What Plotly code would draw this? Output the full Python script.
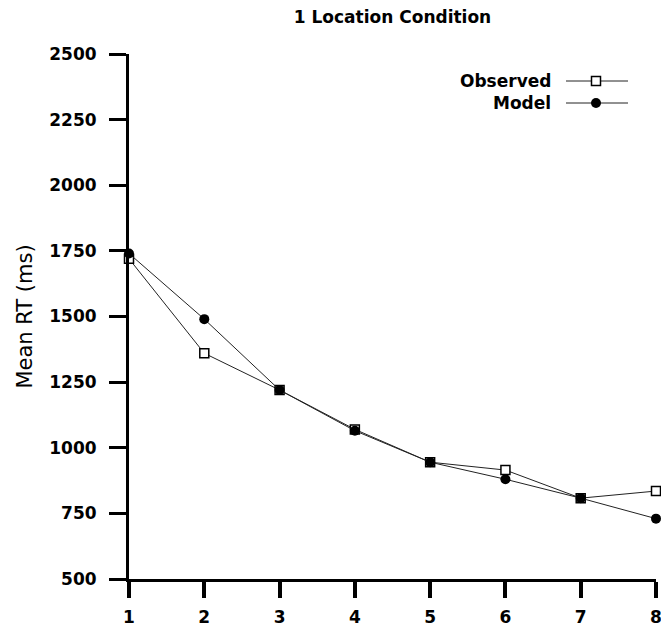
import plotly.graph_objects as go

set_size = [1, 2, 3, 4, 5, 6, 7, 8]
observed = [1720, 1360, 1220, 1070, 945, 915, 808, 835]
model = [1740, 1490, 1220, 1065, 945, 880, 808, 730]
y_ticks = [500, 750, 1000, 1250, 1500, 1750, 2000, 2250, 2500]

W, H = 661, 629
L, R, T, B = 129, 5, 54, 50
pw, ph = W - L - R, H - T - B


def px(x):
    return (x - L) / pw


def py(y):
    return (H - B - y) / ph


fig = go.Figure()
fig.add_trace(go.Scatter(
    x=set_size, y=observed, mode="lines+markers", name="Observed",
    line=dict(color="#222222", width=1),
    marker=dict(symbol="square", size=9, color="white",
                line=dict(color="black", width=1.5)),
    cliponaxis=False, showlegend=False))
fig.add_trace(go.Scatter(
    x=set_size, y=model, mode="lines+markers", name="Model",
    line=dict(color="#222222", width=1),
    marker=dict(symbol="circle", size=10, color="black",
                line=dict(color="black", width=0)),
    cliponaxis=False, showlegend=False))

tickfont = dict(family="DejaVu Sans", size=17, color="black", weight="bold")

fig.update_layout(
    width=W, height=H,
    margin=dict(l=L, r=R, t=T, b=B, pad=0),
    paper_bgcolor="white", plot_bgcolor="white",
    title=dict(text="1 Location Condition", x=(L + pw / 2) / W, xref="container",
               xanchor="center", y=1 - 17 / H, yref="container", yanchor="middle",
               font=dict(family="DejaVu Sans", size=17, color="black", weight="bold")),
    xaxis=dict(range=[1, 8], tickvals=set_size, ticktext=[str(v) for v in set_size],
               showline=True, linecolor="black", linewidth=3,
               ticks="outside", ticklen=16, tickwidth=4, tickcolor="black",
               showgrid=False, zeroline=False, tickfont=tickfont,
               ticklabelstandoff=5, ticklabeloverflow="allow", automargin=False),
    yaxis=dict(range=[500, 2500], tickvals=y_ticks, ticktext=[str(v) for v in y_ticks],
               showline=True, linecolor="black", linewidth=3,
               ticks="outside", ticklen=17, tickwidth=3, tickcolor="black",
               showgrid=False, zeroline=False, tickfont=tickfont,
               ticklabelstandoff=9, automargin=False,
               title=dict(text="Mean RT (ms)", standoff=11,
                          font=dict(family="DejaVu Sans", size=21, color="black"))),
)

# Legend (text left of sample, as in the reference)
legend_items = [("Observed", 81), ("Model", 103)]
for name, yy in legend_items:
    fig.add_annotation(text=name, x=px(553), y=py(yy), xref="paper", yref="paper",
                       xanchor="right", yanchor="middle", showarrow=False,
                       font=dict(family="DejaVu Sans", size=17, color="black", weight="bold"))
    fig.add_shape(type="line", xref="paper", yref="paper",
                  x0=px(566), x1=px(628), y0=py(yy), y1=py(yy),
                  line=dict(color="#222222", width=1))
fig.add_shape(type="rect", xref="paper", yref="paper",
              xsizemode="pixel", ysizemode="pixel",
              xanchor=px(596), yanchor=py(81), x0=-4.5, x1=4.5, y0=-4.5, y1=4.5,
              fillcolor="white", line=dict(color="black", width=1.5))
fig.add_shape(type="circle", xref="paper", yref="paper",
              xsizemode="pixel", ysizemode="pixel",
              xanchor=px(596), yanchor=py(103), x0=-5, x1=5, y0=-5, y1=5,
              fillcolor="black", line=dict(color="black", width=0))

fig.write_html("out.html")
